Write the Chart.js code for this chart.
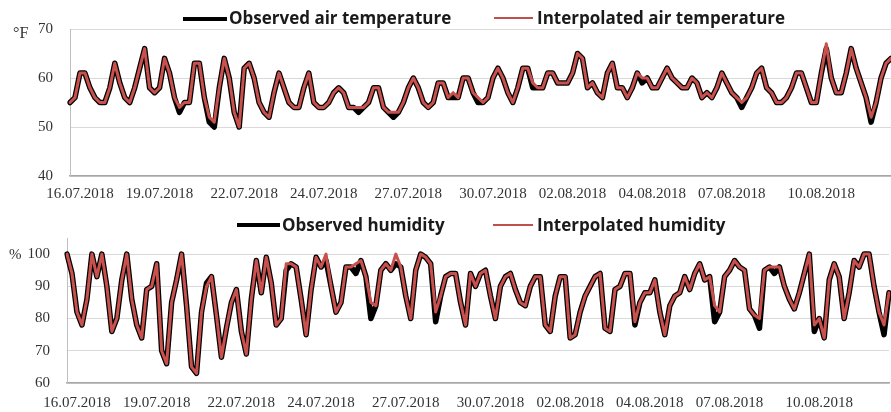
<!DOCTYPE html>
<html>
<head>
<meta charset="utf-8">
<script src="https://cdn.jsdelivr.net/npm/chart.js@4/dist/chart.umd.min.js"></script>
<style>
html, body { margin: 0; padding: 0; background: #fff; overflow: hidden; }
#wrap { position: relative; width: 891px; height: 412px; overflow: hidden; }
canvas { position: absolute; left: 0; }
.lbl { position: absolute; font-family: "Open Sans"; font-weight: 700; font-size: 17px; line-height: 20px; color: #1a1a1a; white-space: nowrap; }
.ln { position: absolute; }
.unit { position: absolute; font-family: "Liberation Serif"; font-size: 16px; line-height: 16px; color: #333; }
</style>
</head>
<body>
<div id="wrap">
  <canvas id="tempChart" width="900" height="205" style="top:0"></canvas>
  <canvas id="humChart" width="900" height="207" style="top:205px"></canvas>

  <div class="unit" style="left:13px; top:25px;">°F</div>
  <div class="unit" style="left:9px; top:246px; font-size:15px;">%</div>

  <div class="ln" style="left:183px; top:17px; width:44px; height:4px; background:#000;"></div>
  <div class="lbl" style="left:229px; top:8px;">Observed air temperature</div>
  <div class="ln" style="left:494px; top:17px; width:39px; height:2px; background:#c0504d;"></div>
  <div class="lbl" style="left:537px; top:8px;">Interpolated air temperature</div>

  <div class="ln" style="left:237px; top:223px; width:43px; height:4px; background:#000;"></div>
  <div class="lbl" style="left:282px; top:215px;">Observed humidity</div>
  <div class="ln" style="left:493px; top:224px; width:40px; height:2px; background:#c0504d;"></div>
  <div class="lbl" style="left:537px; top:215px;">Interpolated humidity</div>
</div>

<script>
// datos (un punto cada ~4 horas)
const tickDates = ['16.07.2018', '19.07.2018', '22.07.2018', '24.07.2018', '27.07.2018',
                   '30.07.2018', '02.08.2018', '04.08.2018', '07.08.2018', '10.08.2018'];
const tickIndex = [2, 18, 35, 51, 68, 85, 101, 117, 133, 151];

const tempInterp = [
  55, 56, 61, 61, 58, 56, 55, 55, 58, 63, 59, 56, 55, 58, 62, 66, 58, 57, 58, 64,
  61, 56, 54, 55, 55, 63, 63, 56, 52, 51, 58, 64, 60, 53, 50, 62, 63, 60, 55, 53,
  52, 57, 61, 58, 55, 54, 54, 58, 61, 55, 54, 54, 55, 57, 58, 57, 54, 54, 54, 54,
  55, 58, 58, 54, 53, 53, 53, 55, 58, 60, 58, 55, 54, 55, 59, 59, 56, 57, 56, 60,
  60, 57, 56, 55, 56, 60, 62, 60, 57, 55, 58, 62, 62, 59, 58, 58, 61, 61, 59, 59,
  59, 61, 65, 64, 58, 59, 57, 56, 61, 63, 58, 58, 56, 58, 61, 60, 60, 58, 58, 60,
  62, 60, 59, 58, 58, 60, 59, 56, 57, 56, 58, 61, 59, 57, 56, 55, 56, 58, 61, 62,
  58, 57, 55, 55, 56, 58, 61, 61, 58, 55, 55, 61, 67, 60, 57, 57, 61, 66, 62, 59,
  56, 52, 55, 60, 63, 64
];
const tempObs = [
  55, 56, 61, 61, 58, 56, 55, 55, 58, 63, 59, 56, 55, 58, 62, 66, 58, 57, 58, 64,
  61, 56, 53, 55, 55, 63, 63, 56, 51, 50, 58, 64, 60, 53, 50, 62, 63, 60, 55, 53,
  52, 57, 61, 58, 55, 54, 54, 58, 61, 55, 54, 54, 55, 57, 58, 57, 54, 54, 53, 54,
  55, 58, 58, 54, 53, 52, 53, 55, 58, 60, 58, 55, 54, 55, 59, 59, 56, 56, 56, 60,
  60, 57, 55, 55, 56, 60, 62, 60, 57, 55, 58, 62, 62, 58, 58, 58, 61, 61, 59, 59,
  59, 61, 65, 64, 58, 59, 57, 56, 61, 63, 58, 58, 56, 58, 61, 59, 60, 58, 58, 60,
  62, 60, 59, 58, 58, 60, 59, 56, 57, 56, 58, 61, 59, 57, 56, 54, 56, 58, 61, 62,
  58, 57, 55, 55, 56, 58, 61, 61, 58, 55, 55, 61, 66, 60, 57, 57, 61, 66, 62, 59,
  56, 51, 55, 60, 63, 64
];

const humInterp = [
  100, 94, 82, 78, 86, 100, 93, 100, 90, 76, 80, 92, 100, 86, 78, 74, 89, 90, 97, 70,
  66, 85, 92, 100, 84, 65, 63, 82, 90, 93, 81, 68, 77, 85, 89, 76, 69, 86, 98, 88,
  99, 91, 78, 80, 97, 97, 96, 86, 75, 89, 99, 96, 100, 90, 82, 85, 96, 96, 97, 98,
  93, 85, 84, 95, 97, 95, 100, 96, 87, 80, 95, 100, 99, 97, 82, 87, 93, 94, 94, 85,
  78, 94, 90, 94, 95, 87, 80, 90, 93, 94, 89, 85, 84, 90, 93, 93, 78, 76, 87, 93,
  93, 74, 75, 82, 87, 90, 93, 94, 77, 76, 89, 90, 94, 94, 79, 85, 88, 88, 92, 82,
  75, 84, 87, 88, 93, 89, 94, 97, 92, 93, 84, 82, 93, 95, 98, 96, 95, 83, 81, 80,
  95, 96, 96, 96, 90, 86, 83, 88, 94, 100, 78, 80, 74, 92, 97, 93, 80, 88, 98, 96,
  100, 100, 90, 82, 78, 88
];
const humObs = [
  100, 94, 82, 78, 86, 100, 93, 100, 90, 76, 80, 92, 100, 86, 78, 74, 89, 90, 97, 70,
  66, 85, 92, 100, 84, 65, 63, 82, 91, 93, 81, 68, 77, 85, 89, 76, 69, 86, 98, 88,
  99, 91, 78, 80, 95, 97, 96, 86, 75, 89, 99, 96, 98, 90, 82, 85, 96, 96, 94, 98,
  93, 80, 84, 95, 97, 95, 97, 96, 87, 80, 95, 100, 99, 97, 79, 87, 93, 94, 94, 85,
  78, 94, 90, 94, 95, 87, 80, 90, 93, 94, 89, 85, 84, 90, 93, 93, 78, 76, 87, 93,
  93, 74, 75, 82, 87, 90, 93, 94, 77, 76, 89, 90, 94, 94, 78, 85, 88, 88, 92, 82,
  75, 84, 87, 88, 93, 89, 94, 97, 92, 93, 79, 82, 93, 95, 98, 96, 95, 83, 81, 77,
  95, 96, 94, 96, 90, 86, 83, 88, 94, 100, 76, 80, 74, 92, 97, 93, 80, 88, 98, 96,
  100, 100, 90, 82, 75, 88
];

// etiquetas del eje x: solo algunas fechas visibles
const labels = tempInterp.map((v, i) => {
    const k = tickIndex.indexOf(i);
    return k >= 0 ? tickDates[k] : '';
});

function makeChart(id, obs, interp, yMin, yMax, yTop, axisWidth, padTop, padRight, labelPad) {
    const ctx = document.getElementById(id);
    return new Chart(ctx, {
        type: 'line',
        data: {
            labels: labels,
            datasets: [
                {
                    label: 'Interpolated',
                    data: interp,
                    borderColor: '#c8504d',
                    borderWidth: 3,
                    order: 0
                },
                {
                    label: 'Observed',
                    data: obs,
                    borderColor: '#000000',
                    borderWidth: 5.5,
                    order: 1
                }
            ]
        },
        options: {
            responsive: false,
            animation: false,
            events: [],
            layout: { padding: { top: padTop, right: padRight, left: 0, bottom: 0 } },
            elements: {
                point: { radius: 0 },
                line: { tension: 0, borderJoinStyle: 'round', borderCapStyle: 'round' }
            },
            plugins: { legend: { display: false }, tooltip: { enabled: false } },
            scales: {
                x: {
                    grid: { display: false, drawTicks: false },
                    border: { display: true, color: '#a6a6a6', width: 1.5 },
                    ticks: {
                        autoSkip: false,
                        maxRotation: 0,
                        minRotation: 0,
                        padding: labelPad,
                        color: '#333',
                        font: { family: 'Liberation Serif', size: 15 }
                    },
                    afterFit: (scale) => { scale.height = 29; }
                },
                y: {
                    min: yMin,
                    max: yMax,
                    grid: { color: '#d9d9d9', drawTicks: false },
                    border: { display: true, color: '#bfbfbf' },
                    ticks: {
                        stepSize: 10,
                        autoSkip: false,
                        maxTicksLimit: 20,
                        padding: 17,
                        color: '#333',
                        font: { family: 'Liberation Serif', size: 15 }
                    },
                    afterBuildTicks: (axis) => {
                        axis.ticks = axis.ticks.filter(t => t.value <= yTop);
                    },
                    afterFit: (scale) => { scale.width = axisWidth; }
                }
            }
        }
    });
}

makeChart('tempChart', tempObs, tempInterp, 40, 70, 70, 70, 29, 5, 9);
makeChart('humChart', humObs, humInterp, 60, 105, 100, 67, 33, 8, 11);
</script>
</body>
</html>
